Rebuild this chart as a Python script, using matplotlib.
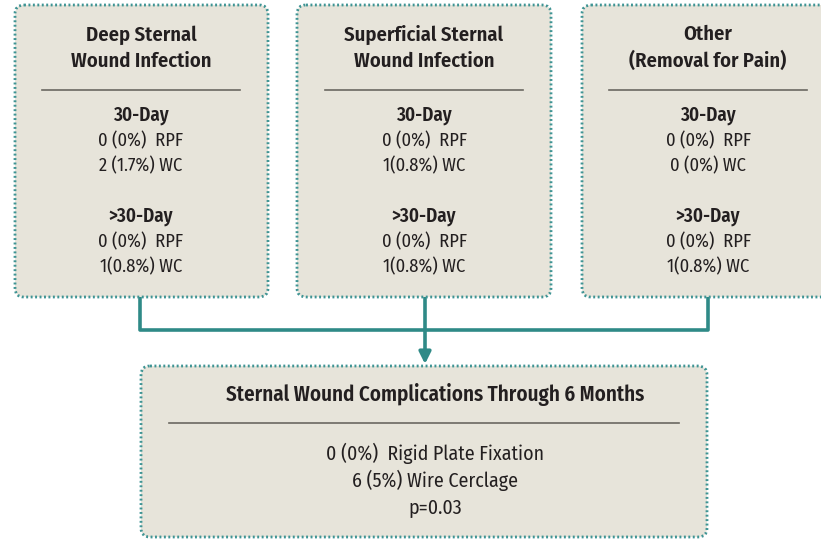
import matplotlib.pyplot as plt
from matplotlib.patches import FancyBboxPatch

# data
categories = ['Deep Sternal\nWound Infection',
              'Superficial Sternal\nWound Infection',
              'Other\n(Removal for Pain)']
day30_rpf = ['0 (0%)  RPF', '0 (0%)  RPF', '0 (0%)  RPF']
day30_wc = ['2 (1.7%) WC', '1(0.8%) WC', '0 (0%) WC']
after30_rpf = ['0 (0%)  RPF', '0 (0%)  RPF', '0 (0%)  RPF']
after30_wc = ['1(0.8%) WC', '1(0.8%) WC', '1(0.8%) WC']
period_labels = ['30-Day', '>30-Day']
summary_title = 'Sternal Wound Complications Through 6 Months'
summary_lines = ['0 (0%)  Rigid Plate Fixation', '6 (5%) Wire Cerclage', 'p=0.03']

FILL = '#e7e4da'
EDGE = '#3f9494'
LINK = '#2f8a87'
TXT = '#231f20'

plt.rcParams['font.family'] = ['Fira Sans Condensed', 'Roboto Condensed', 'DejaVu Sans']


def box(ax, x0, y0, x1, y1):
    p = FancyBboxPatch((x0, y0), x1 - x0, y1 - y0,
                       boxstyle='round,pad=0,rounding_size=9',
                       facecolor=FILL, edgecolor=EDGE, linewidth=2.0,
                       linestyle=(0, (0.7, 0.9)), zorder=2)
    ax.add_patch(p)


def main():
    fig = plt.figure(figsize=(8.21, 5.39), dpi=100)
    ax = fig.add_axes([0, 0, 1, 1])
    ax.set_xlim(0, 821)
    ax.set_ylim(539, 0)
    ax.axis('off')

    lefts = [15, 297, 582]
    rights = [268, 551, 835]
    centers = [141, 424, 708]

    for i, cat in enumerate(categories):
        box(ax, lefts[i], 5, rights[i], 297)
        ax.text(centers[i], 48, cat, ha='center', va='center', fontsize=14.8,
                fontweight='semibold', color=TXT, linespacing=1.42, zorder=3)
        ax.plot([centers[i] - 99, centers[i] + 99], [90, 90], color='#6b6861',
                lw=1.2, zorder=3)
        ax.text(centers[i], 115, period_labels[0], ha='center', va='center',
                fontsize=13.7, fontweight='semibold', color=TXT, zorder=3)
        ax.text(centers[i], 141, day30_rpf[i], ha='center', va='center',
                fontsize=13.3, color=TXT, zorder=3)
        ax.text(centers[i], 166, day30_wc[i], ha='center', va='center',
                fontsize=13.3, color=TXT, zorder=3)
        ax.text(centers[i], 216, period_labels[1], ha='center', va='center',
                fontsize=13.7, fontweight='semibold', color=TXT, zorder=3)
        ax.text(centers[i], 242, after30_rpf[i], ha='center', va='center',
                fontsize=13.3, color=TXT, zorder=3)
        ax.text(centers[i], 267, after30_wc[i], ha='center', va='center',
                fontsize=13.3, color=TXT, zorder=3)

    # connectors
    ax.plot([140, 140, 708, 708], [297, 330, 330, 297], color=LINK, lw=2.6,
            solid_joinstyle='round', zorder=1)
    ax.annotate('', xy=(425, 364), xytext=(425, 297),
                arrowprops=dict(arrowstyle='-|>,head_length=0.7,head_width=0.35',
                                color=LINK, lw=2.6, shrinkA=0, shrinkB=0),
                zorder=1)

    # summary box
    box(ax, 141, 366, 707, 537)
    ax.text(435, 395, summary_title, ha='center', va='center', fontsize=15.1,
            fontweight='semibold', color=TXT, zorder=3)
    ax.plot([169, 679], [423, 423], color='#6b6861', lw=1.2, zorder=3)
    for j, line in enumerate(summary_lines):
        ax.text(435, 453 + 27.5 * j, line, ha='center', va='center',
                fontsize=14.3, color=TXT, zorder=3)

    fig.savefig('out.png', dpi=100, facecolor='white')


if __name__ == '__main__':
    main()
